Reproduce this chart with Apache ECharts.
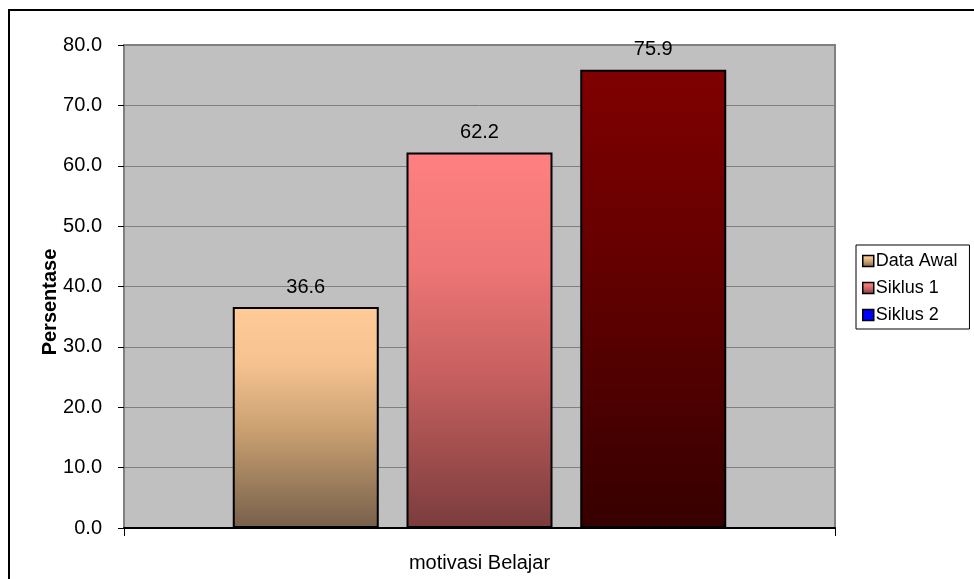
<!DOCTYPE html>
<html>
<head>
<meta charset="utf-8">
<script src="https://cdn.jsdelivr.net/npm/echarts@6/dist/echarts.min.js"></script>
<style>html,body{margin:0;padding:0;background:#fff}#c{width:974px;height:579px}</style>
</head>
<body>
<div id="c"></div>
<script>
const categories = ['motivasi Belajar'];
const seriesNames = ['Data Awal', 'Siklus 1', 'Siklus 2'];
const dataAwal = [36.6];
const siklus1 = [62.2];
const siklus2 = [75.9];
const yTicks = [0, 10, 20, 30, 40, 50, 60, 70, 80];

const FONT = '"Liberation Sans", Arial, sans-serif';
function grad(stops) {
  return new echarts.graphic.LinearGradient(0, 0, 0, 1, stops.map(s => ({ offset: s[0], color: s[1] })));
}
const colors = [
  grad([[0, '#FFCC99'], [0.25, '#F6C390'], [0.55, '#CBA172'], [1, '#76604A']]),
  grad([[0, '#FF8080'], [0.3, '#EE7676'], [0.6, '#C65F5F'], [1, '#7B3C3C']]),
  grad([[0, '#800000'], [0.4, '#660000'], [1, '#360000']])
];
const values = [dataAwal, siklus1, siklus2];

const chart = echarts.init(document.getElementById('c'), null, { renderer: 'canvas' });
chart.setOption({
  animation: false,
  textStyle: { fontFamily: FONT },
  grid: { left: 124, right: 139, top: 45, bottom: 51, show: true, backgroundColor: '#C0C0C0', borderColor: '#808080', borderWidth: 2 },
  graphic: [
    { type: 'rect', shape: { x: 9, y: 10, width: 1200, height: 1200 }, style: { fill: 'none', stroke: '#000', lineWidth: 2 }, z: 100 },
    { type: 'text', x: 50, y: 302, rotation: Math.PI / 2, style: { text: 'Persentase', font: 'bold 20px ' + FONT, fill: '#000', textAlign: 'center', textVerticalAlign: 'middle' }, z: 100 }
  ],
  legend: {
    orient: 'vertical', left: 856, top: 245,
    data: [
      { name: seriesNames[0] },
      { name: seriesNames[1] },
      { name: seriesNames[2], itemStyle: { color: '#0000FF' } }
    ],
    icon: 'rect', itemWidth: 11, itemHeight: 11, itemGap: 9,
    padding: [7, 12, 5, 6],
    borderColor: '#000', borderWidth: 1, backgroundColor: '#fff',
    textStyle: { fontSize: 18, color: '#000', fontFamily: FONT, padding: [0, 0, 0, -3] },
    itemStyle: { borderColor: '#000', borderWidth: 1.5 }
  },
  xAxis: {
    type: 'category', data: categories,
    axisLine: { lineStyle: { color: '#000', width: 2 } },
    axisTick: { show: true, length: 8, lineStyle: { color: '#000' } },
    axisLabel: { fontSize: 20, color: '#000', margin: 25, fontFamily: FONT },
    splitLine: { show: false }
  },
  yAxis: {
    type: 'value', min: 0, max: 80, interval: 10,
    axisLine: { show: false },
    axisTick: { show: true, length: 6, lineStyle: { color: '#000' } },
    axisLabel: { fontSize: 20, color: '#000', margin: 22, fontFamily: FONT, formatter: v => yTicks.includes(v) ? v.toFixed(1) : '' },
    splitLine: { lineStyle: { color: '#808080', width: 1 } }
  },
  series: seriesNames.map((n, i) => ({
    name: n, type: 'bar', data: values[i],
    barWidth: 146, barGap: '19%',
    itemStyle: { color: colors[i], borderColor: '#000', borderWidth: 2 },
    label: { show: true, position: 'top', distance: 10, fontSize: 20, color: '#000', fontFamily: FONT, formatter: p => p.value.toFixed(1) }
  }))
});
</script>
</body>
</html>
